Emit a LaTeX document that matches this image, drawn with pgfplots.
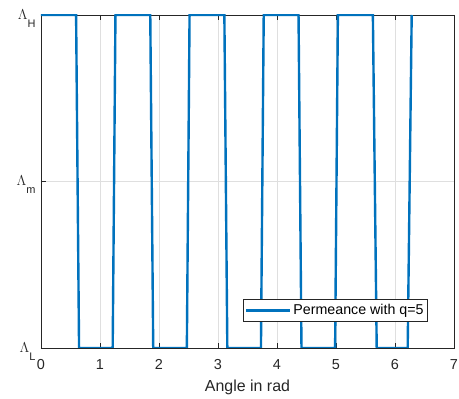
\documentclass[border=0pt]{standalone}
\usepackage[no-math]{fontspec}
\setmainfont{Liberation Sans}
\usepackage{pgfplots}
\pgfplotsset{compat=1.18}
\definecolor{mblue}{RGB}{0,114,189}
\definecolor{mgrid}{RGB}{223,223,223}
\definecolor{maxis}{RGB}{38,38,38}
\newcommand{\sub}[1]{\raisebox{-8bp}{\fontsize{11}{11}\selectfont #1}}
\begin{document}
\begin{tikzpicture}
\begin{axis}[
  scale only axis, width=413bp, height=333bp,
  xmin=0, xmax=7, ymin=0, ymax=1,
  xtick={0,1,2,3,4,5,6,7},
  ytick={0,0.5,1},
  yticklabels={{$\Lambda$\sub{L}},{$\Lambda$\sub{m}},{$\Lambda$\sub{H}}},
  /pgf/number format/assume math mode=true,
  xticklabel shift=8bp,
  xticklabel style={font=\fontsize{14.5}{14.5}\selectfont, color=maxis},
  yticklabel style={font=\fontsize{13.5}{13.5}\selectfont, color=maxis, anchor=base east, yshift=-4.5bp, xshift=-2bp},
  xlabel={Angle in rad},
  xlabel style={font=\fontsize{16}{16}\selectfont, color=maxis, yshift=-3bp},
  grid=major,
  major grid style={mgrid, line width=0.6bp},
  axis line style={maxis, line width=0.6bp},
  tick style={maxis, line width=0.6bp},
  tick align=inside,
  major tick length=5bp,
  xtick pos=both, ytick pos=left,
  legend style={at={(0.937,0.078)}, anchor=south east, draw=maxis, line width=0.6bp,
    font=\fontsize{14.3}{14.3}\selectfont, inner xsep=2bp, inner ysep=3.5bp,
    /tikz/every even column/.append style={column sep=2bp}},
  legend cell align=left,
  legend image code/.code={\draw[#1, line width=2.4bp] (0bp,0bp) -- (44bp,0bp);},
]
\addplot[mblue, line width=2.4bp, line join=miter] coordinates {
(0,1) (0.595,1) (0.645,0) (1.215,0) (1.262,1)
(1.852,1) (1.902,0) (2.472,0) (2.518,1)
(3.108,1) (3.158,0) (3.728,0) (3.775,1)
(4.365,1) (4.415,0) (4.985,0) (5.032,1)
(5.625,1) (5.69,0) (6.215,0) (6.283,1)
};
\addlegendentry{Permeance with q=5}
\end{axis}
\pgfresetboundingbox
\path[use as bounding box] (-41bp,-51bp) rectangle (418bp,348bp);
\end{tikzpicture}
\end{document}
